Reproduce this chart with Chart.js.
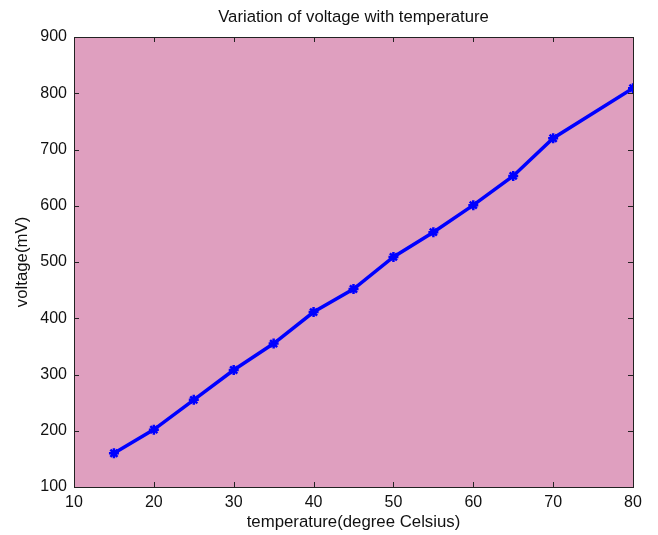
<!DOCTYPE html>
<html>
<head>
<meta charset="utf-8">
<script src="https://cdn.jsdelivr.net/npm/chart.js@4"></script>
<style>
  html, body { margin: 0; padding: 0; background: #fff; }
  #wrap { width: 658px; height: 535px; }
</style>
</head>
<body>
<div id="wrap"><canvas id="chart" width="658" height="535"></canvas></div>
<script>
const temperature = [15, 20, 25, 30, 35, 40, 45, 50, 55, 60, 65, 70, 80];
const voltage = [160, 202, 255, 308, 355, 411, 452, 509, 553, 601, 653, 720, 809];
const xTicks = [10, 20, 30, 40, 50, 60, 70, 80];
const yTicks = [100, 200, 300, 400, 500, 600, 700, 800, 900];

const FONT = 'Liberation Sans, Arial, sans-serif';

// ----------------- Frame plugin -----------------
const framePlugin = {
  id: 'frame',
  beforeDatasetsDraw(chart) {
    const { ctx, chartArea: a } = chart;
    ctx.save();
    ctx.fillStyle = '#df9fbf';
    ctx.fillRect(a.left, a.top, a.right - a.left, a.bottom - a.top);
    ctx.restore();
  },
  afterDraw(chart) {
    const { ctx, chartArea: a, scales } = chart;
    const len = 5;
    ctx.save();
    ctx.strokeStyle = '#222';
    ctx.lineWidth = 1;
    ctx.beginPath();
    scales.x.ticks.forEach(t => {
      const px = Math.round(scales.x.getPixelForValue(t.value)) + 0.5;
      ctx.moveTo(px, a.bottom); ctx.lineTo(px, a.bottom - len);
      ctx.moveTo(px, a.top); ctx.lineTo(px, a.top + len);
    });
    scales.y.ticks.forEach(t => {
      const py = Math.round(scales.y.getPixelForValue(t.value)) + 0.5;
      ctx.moveTo(a.left, py); ctx.lineTo(a.left + len, py);
      ctx.moveTo(a.right, py); ctx.lineTo(a.right - len, py);
    });
    ctx.stroke();
    ctx.strokeRect(Math.round(a.left) + 0.5, Math.round(a.top) + 0.5,
      Math.round(a.right - a.left), Math.round(a.bottom - a.top));
    // title over the plot area
    ctx.fillStyle = '#111';
    ctx.font = '16.7px ' + FONT;
    ctx.textAlign = 'center';
    ctx.textBaseline = 'middle';
    ctx.fillText('Variation of voltage with temperature', (a.left + a.right) / 2, 17);
    ctx.restore();
  }
};

new Chart(document.getElementById('chart').getContext('2d'), {
  type: 'line',
  data: {
    datasets: [{
      data: temperature.map((t, i) => ({ x: t, y: voltage[i] })),
      borderColor: '#0000ff',
      backgroundColor: '#0000ff',
      borderWidth: 3.5,
      pointStyle: 'star',
      pointRadius: 5,
      pointBorderWidth: 2.5,
      tension: 0
    }]
  },
  plugins: [framePlugin],
  options: {
    responsive: false,
    animation: false,
    layout: { padding: { top: 37, right: 25, left: 0, bottom: 0 } },
    plugins: { legend: { display: false }, tooltip: { enabled: false } },
    scales: {
      x: {
        type: 'linear', min: 10, max: 80,
        afterBuildTicks: s => { s.ticks = xTicks.map(v => ({ value: v })); },
        afterFit: s => { s.height = 48; },
        grid: { display: false, drawTicks: false },
        border: { display: false },
        ticks: { color: '#111', font: { family: FONT, size: 16 }, padding: 6, maxRotation: 0 },
        title: { display: true, text: 'temperature(degree Celsius)', color: '#111',
          font: { family: FONT, size: 16.8 }, padding: { top: 0, bottom: 3 } }
      },
      y: {
        type: 'linear', min: 100, max: 900,
        afterBuildTicks: s => { s.ticks = yTicks.map(v => ({ value: v })); },
        afterFit: s => { s.width = 74; },
        grid: { display: false, drawTicks: false },
        border: { display: false },
        ticks: { color: '#111', font: { family: FONT, size: 16 }, padding: 7 },
        title: { display: true, text: 'voltage(mV)', color: '#111',
          font: { family: FONT, size: 16.8 }, padding: { top: 12, bottom: 0 } }
      }
    }
  }
});
</script>
</body>
</html>
